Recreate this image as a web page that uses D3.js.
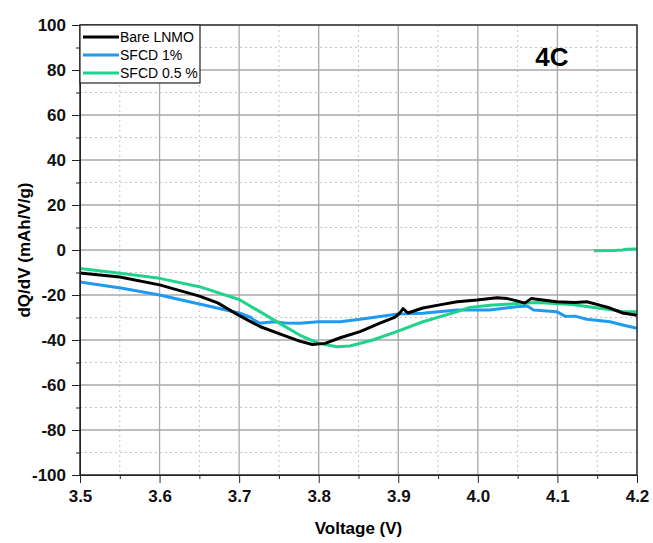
<!DOCTYPE html>
<html>
<head>
<meta charset="utf-8">
<script src="https://cdn.jsdelivr.net/npm/d3@7"></script>
<style>
  body { margin: 0; background: #fff; }
  svg { font-family: "Liberation Sans", Arial, sans-serif; }
</style>
</head>
<body>
<svg id="chart" width="653" height="543"></svg>
<script>
/* data */
var bareV   = [3.500, 3.550, 3.600, 3.650, 3.673, 3.701, 3.726, 3.751, 3.776, 3.792, 3.808, 3.827, 3.852, 3.877, 3.896, 3.902, 3.906, 3.912, 3.931, 3.952, 3.974, 3.999, 4.024, 4.037, 4.049, 4.059, 4.067, 4.084, 4.099, 4.122, 4.137, 4.153, 4.166, 4.182, 4.200];
var bareQ   = [-10.2, -12, -15.5, -20.5, -23.5, -29.3, -34, -37.3, -40.5, -42, -41.5, -39, -36.3, -32.5, -29.8, -28, -26, -28, -25.8, -24.4, -23, -22.2, -21.2, -21.6, -22.6, -23.6, -21.6, -22.3, -23, -23.3, -23, -24.5, -25.8, -28, -29];
var sfcd1V  = [3.500, 3.553, 3.600, 3.650, 3.700, 3.715, 3.718, 3.726, 3.743, 3.760, 3.776, 3.800, 3.827, 3.852, 3.877, 3.898, 3.931, 3.974, 4.015, 4.049, 4.062, 4.070, 4.099, 4.110, 4.122, 4.137, 4.166, 4.182, 4.200];
var sfcd1Q  = [-14.2, -17, -20, -24, -28, -30, -31, -32.6, -31.9, -32.5, -32.6, -31.9, -31.9, -30.8, -29.6, -28.5, -28.1, -26.7, -26.7, -25.2, -24.9, -26.7, -27.4, -29.5, -29.4, -30.8, -31.9, -33.3, -34.8];
var sfcd05V = [3.500, 3.553, 3.600, 3.650, 3.700, 3.726, 3.751, 3.776, 3.800, 3.823, 3.839, 3.868, 3.898, 3.931, 3.974, 3.990, 4.015, 4.049, 4.075, 4.118, 4.153, 4.170, 4.182, 4.200];
var sfcd05Q = [-8.2, -10.4, -12.6, -16.3, -22, -27.4, -32.6, -37.8, -41.5, -43, -42.7, -40, -36.3, -31.9, -27.4, -25.5, -24.6, -23.8, -23.3, -24.2, -25.9, -26.7, -27.4, -27.4];
var sfcd05TailV = [4.146, 4.170, 4.182, 4.186, 4.200];
var sfcd05TailQ = [-0.3, -0.2, 0, 0.3, 0.4];

var xTicks = [3.5, 3.6, 3.7, 3.8, 3.9, 4.0, 4.1, 4.2];
var yTicks = [100, 80, 60, 40, 20, 0, -20, -40, -60, -80, -100];
var seriesNames = ["Bare LNMO", "SFCD 1%", "SFCD 0.5 %"];
var seriesColors = ["#000000", "#1e9bf0", "#1fd38b"];

var svg = d3.select("#chart");
var margin = {top: 25, right: 16, bottom: 68, left: 80},
    width = 653 - margin.left - margin.right,
    height = 543 - margin.top - margin.bottom;

var x = d3.scaleLinear().domain([3.5, 4.2]).range([0, width]);
var y = d3.scaleLinear().domain([-100, 100]).range([height, 0]);

var g = svg.append("g")
    .attr("transform", "translate(" + margin.left + "," + margin.top + ")");

/* minor grid (dotted) */
var xMinor = d3.range(3.55, 4.2, 0.1);
var yMinor = d3.range(-90, 100, 20);
g.selectAll(".gx-minor").data(xMinor).enter().append("line")
    .attr("x1", function(d) { return x(d); }).attr("x2", function(d) { return x(d); })
    .attr("y1", 0).attr("y2", height)
    .attr("stroke", "#c4c4c4").attr("stroke-dasharray", "2,3");
g.selectAll(".gy-minor").data(yMinor).enter().append("line")
    .attr("y1", function(d) { return y(d); }).attr("y2", function(d) { return y(d); })
    .attr("x1", 0).attr("x2", width)
    .attr("stroke", "#c4c4c4").attr("stroke-dasharray", "2,3");

/* major grid */
g.selectAll(".gx").data(xTicks).enter().append("line")
    .attr("x1", function(d) { return x(d); }).attr("x2", function(d) { return x(d); })
    .attr("y1", 0).attr("y2", height)
    .attr("stroke", "#a8a8a8").attr("stroke-width", 1.3);
g.selectAll(".gy").data(yTicks).enter().append("line")
    .attr("y1", function(d) { return y(d); }).attr("y2", function(d) { return y(d); })
    .attr("x1", 0).attr("x2", width)
    .attr("stroke", "#a8a8a8").attr("stroke-width", 1.3);

/* curves */
var line = d3.line()
    .x(function(d) { return x(d[0]); })
    .y(function(d) { return y(d[1]); });

var curves = [
  {v: sfcd1V, q: sfcd1Q, c: seriesColors[1]},
  {v: sfcd05V, q: sfcd05Q, c: seriesColors[2]},
  {v: sfcd05TailV, q: sfcd05TailQ, c: seriesColors[2]},
  {v: bareV, q: bareQ, c: seriesColors[0]}
];
curves.forEach(function(s) {
  g.append("path")
      .datum(d3.zip(s.v, s.q))
      .attr("fill", "none")
      .attr("stroke", s.c)
      .attr("stroke-width", 3)
      .attr("stroke-linejoin", "round")
      .attr("d", line);
});

/* frame */
g.append("rect")
    .attr("width", width).attr("height", height)
    .attr("fill", "none").attr("stroke", "#222").attr("stroke-width", 1.3);

/* axes */
g.append("g")
    .attr("transform", "translate(0," + height + ")")
    .call(d3.axisBottom(x).tickValues(xTicks).tickFormat(d3.format(".1f")).tickSize(8).tickPadding(7));
g.append("g")
    .attr("transform", "translate(0," + height + ")")
    .call(d3.axisBottom(x).tickValues(xMinor).tickFormat("").tickSize(4))
    .select(".domain").remove();
g.append("g")
    .call(d3.axisLeft(y).tickValues(yTicks).tickFormat(function(d) { return String(d); }).tickSize(8).tickPadding(6));
g.append("g")
    .call(d3.axisLeft(y).tickValues(yMinor).tickFormat("").tickSize(4))
    .select(".domain").remove();

g.selectAll(".tick text")
    .style("font-size", "17px")
    .style("font-weight", "bold")
    .style("fill", "#111");
g.selectAll(".tick line").attr("stroke", "#222");
g.selectAll(".domain").attr("stroke", "#222");

/* axis titles */
svg.append("text")
    .attr("x", margin.left + width / 2).attr("y", 534)
    .attr("text-anchor", "middle")
    .style("font-size", "17px").style("font-weight", "bold")
    .text("Voltage (V)");
svg.append("text")
    .attr("transform", "translate(30," + (margin.top + height / 2) + ") rotate(-90)")
    .attr("text-anchor", "middle")
    .style("font-size", "17px").style("font-weight", "bold")
    .text("dQ/dV (mAh/V/g)");

/* rate label */
g.append("text")
    .attr("x", x(4.093)).attr("y", y(82))
    .attr("text-anchor", "middle")
    .style("font-size", "26px").style("font-weight", "bold")
    .text("4C");

/* legend */
var legend = g.append("g");
legend.append("rect")
    .attr("x", 0).attr("y", 0).attr("width", 120).attr("height", 58)
    .attr("fill", "#fff").attr("stroke", "#222").attr("stroke-width", 1.2);
seriesNames.forEach(function(name, i) {
  var ly = 12 + i * 18;
  legend.append("line")
      .attr("x1", 3).attr("x2", 39).attr("y1", ly).attr("y2", ly)
      .attr("stroke", seriesColors[i]).attr("stroke-width", 3);
  legend.append("text")
      .attr("x", 40).attr("y", ly + 5)
      .style("font-size", "14px")
      .text(name);
});
</script>
</body>
</html>
